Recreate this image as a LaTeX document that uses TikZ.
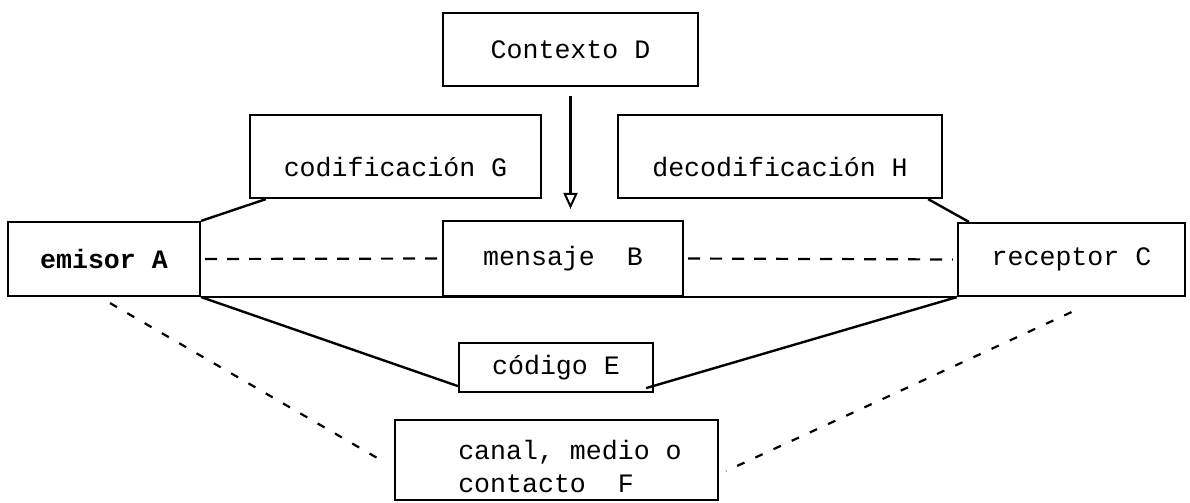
\documentclass[tikz,border=0pt]{standalone}
\usepackage{fontspec}
\setmonofont{Liberation Mono}
\usetikzlibrary{arrows.meta}
\newcommand{\diagfont}{\ttfamily\fontsize{13.3pt}{16.5pt}\selectfont}
\begin{document}
\begin{tikzpicture}[x=0.5pt,y=-0.5pt,
  box/.style={draw, line width=1.1pt, inner sep=0pt, font=\diagfont},
  lowtext/.style={text height=22pt, text depth=2.5pt},
  link/.style={line width=1.2pt},
  hdash/.style={line width=1.1pt, dash pattern=on 6pt off 5pt},
  ddash/.style={line width=1.1pt, dash pattern=on 4pt off 6pt}]
\path[fill=white] (0,0) rectangle (1190,503);
\useasboundingbox (0,0) rectangle (1190,503);

\node[box, minimum width=127.5pt, minimum height=36.5pt] (D) at (570.5,49.5) {Contexto D};
\node[box, lowtext, minimum width=145.5pt, minimum height=41.5pt] (G) at (395.5,156.5) {codificación G};
\node[box, lowtext, minimum width=162pt, minimum height=41.5pt] (H) at (780,156.5) {decodificación H};
\node[box, minimum width=96pt, minimum height=37pt, font=\diagfont\bfseries] (A) at (104,259) {emisor A};
\node[box, minimum width=120pt, minimum height=37.5pt] (B) at (563,258.5) {mensaje\ \ B};
\node[box, minimum width=113.5pt, minimum height=36.5pt] (C) at (1071.5,259.5) {receptor C};
\node[box, minimum width=97pt, minimum height=24.5pt] (E) at (556,367.5) {código E};
\node[box, minimum width=161.5pt, minimum height=40pt] (F) at (556.5,460) {};
\node[font=\diagfont, align=left, inner sep=0pt] (FT) at (570,466) {canal, medio o\\contacto\ \ F};

% context arrow
\draw[link, shorten <=4.5pt, shorten >=5.5pt, -{Triangle[open, length=8pt, width=7pt, line width=1pt]}]
  (D.south) -- (D.south |- B.north);

% coding / decoding connectors
\draw[link] ([xshift=8.5pt]G.south west) -- (A.north east);
\draw[link] ([xshift=-7.5pt]H.south east) -- ([xshift=6pt]C.north west);

% base line joining emisor, mensaje, receptor
\draw[link] (A.south east) -- (C.south west);

% message dashes
\draw[hdash, shorten <=2pt, shorten >=2pt] (A.east) -- (B.west);
\draw[hdash, shorten <=2pt, shorten >=2pt] (B.east) -- (C.west);

% code lines
\draw[link] (A.south east) -- ([yshift=3.5pt]E.south west);
\draw[link] (C.south west) -- ([shift={(-4pt,2.5pt)}]E.south east);

% channel dashed lines
\draw[ddash] ([shift={(3pt,-3pt)}]A.south) -- ([shift={(-4pt,-1.5pt)}]F.west);
\draw[ddash] ([shift={(0pt,-7.5pt)}]C.south) -- ([shift={(3.5pt,-5.5pt)}]F.east);
\end{tikzpicture}
\end{document}
